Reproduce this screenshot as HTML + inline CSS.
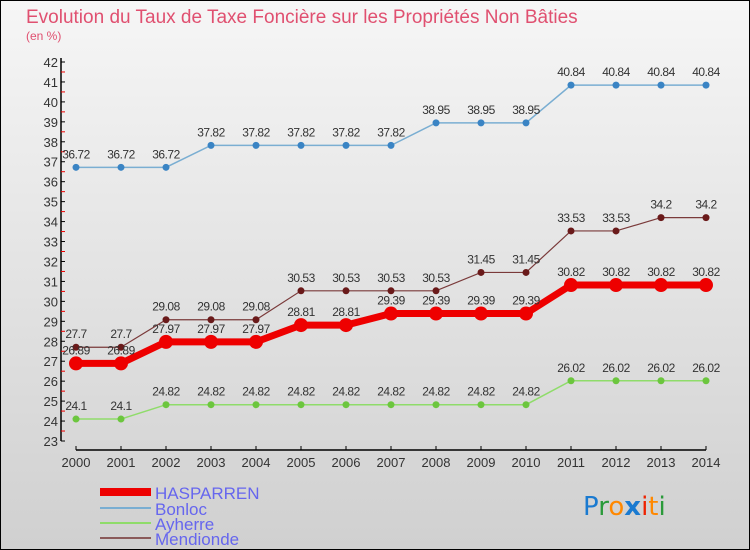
<!DOCTYPE html>
<html><head><meta charset="utf-8"><style>
body{margin:0}
#c{width:750px;height:550px;position:relative;background:linear-gradient(#f6f6f6,#d0d0d0);box-sizing:border-box;border:1px solid #000;overflow:hidden;font-family:"Liberation Sans",sans-serif}
</style></head><body>
<div id="c">
<svg id="s" width="750" height="550" style="position:absolute;left:-1px;top:-1px">
<text x="26" y="23" font-size="19" fill="#e05070" font-weight="300">Evolution du Taux de Taxe Foncière sur les Propriétés Non Bâties</text>
<text x="26" y="40" font-size="12" fill="#e05070">(en %)</text>
<g id="ax"></g><g id="series"></g>
<g>
<line x1="100" y1="492" x2="151" y2="492" stroke="#ee0000" stroke-width="8"/>
<text x="155" y="499" font-size="17" fill="#6666ee">HASPARREN</text>
<line x1="100" y1="508" x2="151" y2="508" stroke="#7aaed2" stroke-width="2"/>
<text x="155" y="515" font-size="17" fill="#6666ee">Bonloc</text>
<line x1="100" y1="523" x2="151" y2="523" stroke="#8fdc6a" stroke-width="2"/>
<text x="155" y="530" font-size="17" fill="#6666ee">Ayherre</text>
<line x1="100" y1="538" x2="151" y2="538" stroke="#8a5a5a" stroke-width="2"/>
<text x="155" y="545" font-size="17" fill="#6666ee">Mendionde</text>
</g>
<g font-size="26" font-family="DejaVu Sans,sans-serif">
<text x="583" y="515"><tspan fill="#1a7ad0">P</tspan><tspan fill="#2a9a3a">r</tspan><tspan fill="#ff8800">o</tspan><tspan fill="#1a7ad0" font-weight="bold">x</tspan><tspan fill="#ee2200">i</tspan><tspan fill="#ff8800">t</tspan><tspan fill="#2a9a3a">i</tspan></text>
</g>
</svg>
</div>
<script>
const years=[2000,2001,2002,2003,2004,2005,2006,2007,2008,2009,2010,2011,2012,2013,2014];
const hasparren=[26.89,26.89,27.97,27.97,27.97,28.81,28.81,29.39,29.39,29.39,29.39,30.82,30.82,30.82,30.82];
const bonloc=[36.72,36.72,36.72,37.82,37.82,37.82,37.82,37.82,38.95,38.95,38.95,40.84,40.84,40.84,40.84];
const ayherre=[24.1,24.1,24.82,24.82,24.82,24.82,24.82,24.82,24.82,24.82,24.82,26.02,26.02,26.02,26.02];
const mendionde=[27.7,27.7,29.08,29.08,29.08,30.53,30.53,30.53,30.53,31.45,31.45,33.53,33.53,34.2,34.2];
const yTicks=[23,24,25,26,27,28,29,30,31,32,33,34,35,36,37,38,39,40,41,42];
const NS="http://www.w3.org/2000/svg";
const X=i=>76+i*45, Y=v=>441-(v-23)*19.947;
function mk(t,a,p){const e=document.createElementNS(NS,t);for(const k in a)e.setAttribute(k,a[k]);p.appendChild(e);return e;}
const ax=document.getElementById('ax');
let l=mk('line',{x1:61,y1:58,x2:61,y2:441,stroke:'#000','stroke-width':1.5},ax);


l=mk('line',{x1:76,y1:450,x2:706,y2:450,stroke:'#000','stroke-width':1.5},ax);


yTicks.forEach(v=>{
 mk('line',{x1:61,y1:Y(v),x2:65,y2:Y(v),stroke:'#000'},ax);
 if(v<42)mk('line',{x1:61,y1:Y(v+0.5),x2:65,y2:Y(v+0.5),stroke:'#e00'},ax);
 const t=mk('text',{x:58,y:Y(v)+5,'font-size':13,fill:'#333','text-anchor':'end'},ax);
 t.textContent=v;
 
 
});
years.forEach((y,i)=>{
 mk('line',{x1:X(i),y1:446,x2:X(i),y2:450,stroke:'#000'},ax);
 const t=mk('text',{x:X(i),y:467,'font-size':13,fill:'#333','text-anchor':'middle'},ax);
 t.textContent=y;
 
 
});
const sg=document.getElementById('series');
function draw(name,vals,col,w,r,dot){
 const g=mk('g',{},sg);
 
 
 const p=mk('polyline',{points:vals.map((v,i)=>X(i)+','+Y(v)).join(' '),fill:'none',stroke:col,'stroke-width':w},g);
 
 
 vals.forEach((v,i)=>{
  const c=mk('circle',{cx:X(i),cy:Y(v),r:r,fill:dot},g);
  
  
  const t=mk('text',{x:X(i),y:Y(v)-9,'font-size':12,fill:'#333','text-anchor':'middle','letter-spacing':'-0.5'},g);
  t.textContent=v;
  
  
 });
}
draw('bonloc',bonloc,'#7aaed2',1.5,3.5,'#3a84c4');
draw('ayherre',ayherre,'#8fdc6a',1.5,3.5,'#6cc63e');
draw('mendionde',mendionde,'#7a3a3a',1.2,3.5,'#6a1a1a');
draw('hasparren',hasparren,'#ee0000',7,7,'#ee0000');
</script>
</body></html>
